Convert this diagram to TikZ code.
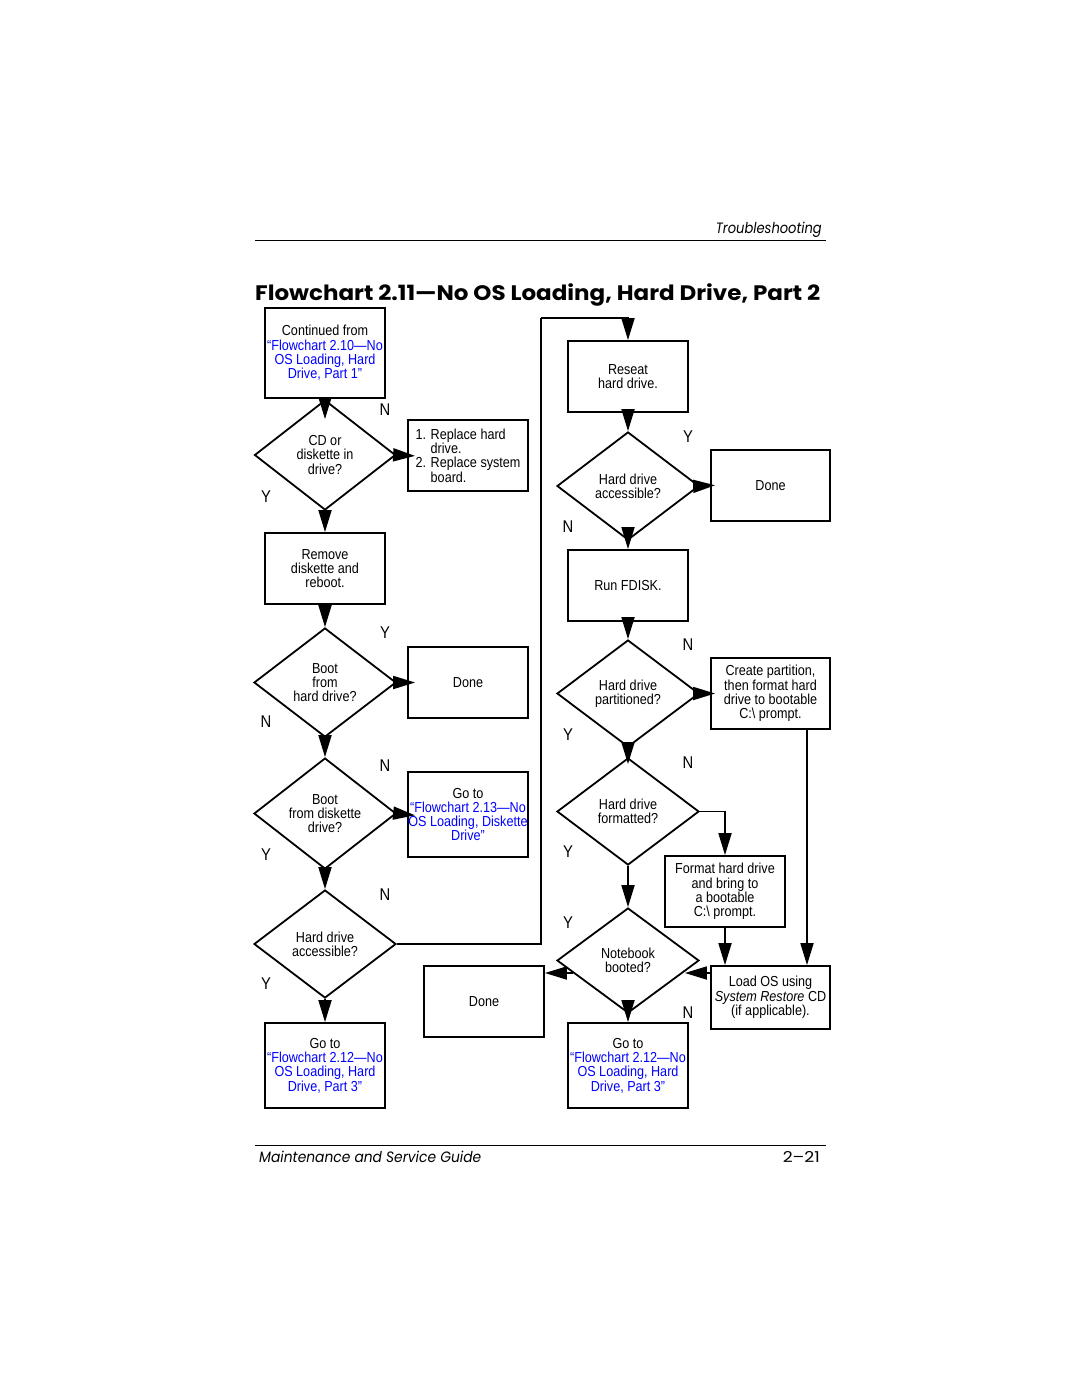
\documentclass[tikz,border=0pt]{standalone}
\usepackage{graphicx}
\usepackage{fontspec}
\setmainfont{Liberation Sans}[FakeStretch=0.87]
\newfontfamily\futfont{Poppins}
\usetikzlibrary{shapes.geometric,arrows.meta}
\definecolor{linkblue}{RGB}{0,0,255}
\newcommand{\lk}[1]{\textcolor{linkblue}{#1}}
\begin{document}
\begin{tikzpicture}[x=1pt,y=-1pt,
  box/.style={draw, line width=1.8pt, inner sep=0pt, minimum width=120pt, minimum height=71pt, align=center, font=\fontsize{14.5}{14.3}\selectfont},
  tall/.style={box, minimum height=85pt},
  dia/.style={draw, diamond, aspect=1, line width=1.8pt, inner sep=0pt, minimum width=142pt, minimum height=108pt, align=center, font=\fontsize{14.5}{14.3}\selectfont},
  yn/.style={font=\fontsize{17}{17}\selectfont, inner sep=0pt},
  arr/.style={line width=1.8pt, -{Triangle[length=22pt,width=13pt]}},
  ln/.style={line width=1.8pt}
]
\fill[white] (0,0) rectangle (1080,1397);
\useasboundingbox (0,0) rectangle (1080,1397);

% header / footer
\node[anchor=base east, inner sep=0pt] (hdr) at (822,233) {\resizebox{106pt}{\height}{\futfont\itshape\fontsize{15}{15}\selectfont Troubleshooting}};
\coordinate (hl1) at (255,240);
\coordinate (hl2) at (826,240);
\draw[line width=0.9pt] (hl1) -- (hl2);
\node[anchor=base west, inner sep=0pt] (title) at (255,300) {\resizebox{565pt}{\height}{\futfont\bfseries\fontsize{21}{21}\selectfont Flowchart 2.11—No OS Loading, Hard Drive, Part 2}};
\coordinate (fl1) at (255,1145);
\coordinate (fl2) at (826,1145);
\draw[line width=0.9pt] (fl1) -- (fl2);
\node[anchor=base west, inner sep=0pt] (ftl) at (259,1162) {\resizebox{222pt}{\height}{\futfont\itshape\fontsize{15}{15}\selectfont Maintenance and Service Guide}};
\node[anchor=base east, inner sep=0pt] (ftr) at (820,1162) {\resizebox{37pt}{\height}{\futfont\fontsize{15}{15}\selectfont 2–21}};

% left column
\node[box, minimum height=90pt] (a) at (325,353) {Continued from\\\lk{“Flowchart 2.10—No}\\\lk{OS Loading, Hard}\\\lk{Drive, Part 1”}};
\node[dia, minimum width=141pt, minimum height=110pt] (d1) at (325,455) {CD or\\diskette in\\drive?};
\node[box, align=left] (rep) at (468,455.5) {1. Replace hard\\\hphantom{1. }drive.\\2. Replace system\\\hphantom{2. }board.};
\node[box] (b) at (325,568.5) {Remove\\diskette and\\reboot.};
\node[dia, minimum height=109pt] (d2) at (325,682.5) {Boot\\from\\hard drive?};
\node[box] (done1) at (468,682.5) {Done};
\node[dia, minimum height=109pt] (d3) at (325,813.5) {Boot\\from diskette\\drive?};
\node[tall] (go13) at (468,814.5) {Go to\\\lk{“Flowchart 2.13—No}\\\lk{OS Loading, Diskette}\\\lk{Drive”}};
\node[dia] (d4) at (325,944) {Hard drive\\accessible?};
\node[tall] (go12a) at (325,1065.5) {Go to\\\lk{“Flowchart 2.12—No}\\\lk{OS Loading, Hard}\\\lk{Drive, Part 3”}};

% right column
\node[box] (reseat) at (628,376.5) {Reseat\\hard drive.};
\node[dia] (r1) at (628,486) {Hard drive\\accessible?};
\node[box, minimum width=119pt] (done2) at (770.5,485.5) {Done};
\node[box] (fdisk) at (628,585.5) {Run FDISK.};
\node[dia, minimum height=107pt] (r2) at (628,693.5) {Hard drive\\partitioned?};
\node[box, minimum width=119pt] (part) at (770.5,693.5) {Create partition,\\then format hard\\drive to bootable\\C:\textbackslash{} prompt.};
\node[dia, minimum height=107pt] (r3) at (628,811.5) {Hard drive\\formatted?};
\node[box] (fmt) at (725,891.5) {Format hard drive\\and bring to\\a bootable\\C:\textbackslash{} prompt.};
\node[dia, minimum height=105pt] (r4) at (628,960.5) {Notebook\\booted?};
\node[box, minimum width=119pt, minimum height=63pt] (load) at (770.5,997.5) {Load OS using\\\textit{System Restore} CD\\(if applicable).};
\node[box] (done3) at (484,1001.5) {Done};
\node[tall] (go12b) at (628,1065.5) {Go to\\\lk{“Flowchart 2.12—No}\\\lk{OS Loading, Hard}\\\lk{Drive, Part 3”}};

% Y / N labels
\node[yn] (l1) at (385,410) {N};
\node[yn] (l2) at (266,497) {Y};
\node[yn] (l3) at (385,633) {Y};
\node[yn] (l4) at (266,722) {N};
\node[yn] (l5) at (385,766) {N};
\node[yn] (l6) at (266,855) {Y};
\node[yn] (l7) at (385,895) {N};
\node[yn] (l8) at (266,984) {Y};
\node[yn] (l9) at (688,437) {Y};
\node[yn] (l10) at (568,527) {N};
\node[yn] (l11) at (688,645) {N};
\node[yn] (l12) at (568,735) {Y};
\node[yn] (l13) at (688,763) {N};
\node[yn] (l14) at (568,852) {Y};
\node[yn] (l15) at (568,923) {Y};
\node[yn] (l16) at (688,1013) {N};

% connectors
\coordinate (loopc) at (541,318);
\coordinate (rowA) at (0,973);
\draw[arr, shorten >=-20pt] (a.south) -- (d1.north);
\draw[arr, shorten >=-8pt] (d1.east) -- (rep.west);
\draw[arr] (d1.south) -- (b.north);
\draw[arr] (b.south) -- (d2.north);
\draw[arr, shorten >=-8pt] (d2.east) -- (done1.west);
\draw[arr] (d2.south) -- (d3.north);
\draw[arr, shorten >=-8pt] (d3.east) -- (go13.west);
\draw[arr] (d3.south) -- (d4.north);
\draw[arr] (d4.south) -- (go12a.north);
\draw[ln] (d4.east) -| (loopc);
\draw[arr] (loopc) -| (reseat.north);
\draw[arr] (reseat.south) -- (r1.north);
\draw[arr, shorten >=-5pt] (r1.east) -- (done2.west);
\draw[arr] (r1.south) -- (fdisk.north);
\draw[arr] (fdisk.south) -- (r2.north);
\draw[arr, shorten >=-5pt] (r2.east) -- (part.west);
\draw[arr, shorten >=-7pt] (r2.south) -- (r3.north);
\draw[arr] (r3.east) -| (fmt.north);
\draw[arr] (r3.south) -- (r4.north);
\draw[arr] (fmt.south) -- (load.north -| fmt.south);
\draw[arr] ([xshift=36.5pt]part.south) -- ([xshift=36.5pt]load.north);
\draw[arr, shorten >=-15pt] (load.west |- rowA) -- (r4.east |- rowA);
\draw[arr] ([xshift=17pt]r4.west |- rowA) -- (done3.east |- rowA);
\draw[arr] (r4.south) -- (go12b.north);
\end{tikzpicture}
\end{document}
